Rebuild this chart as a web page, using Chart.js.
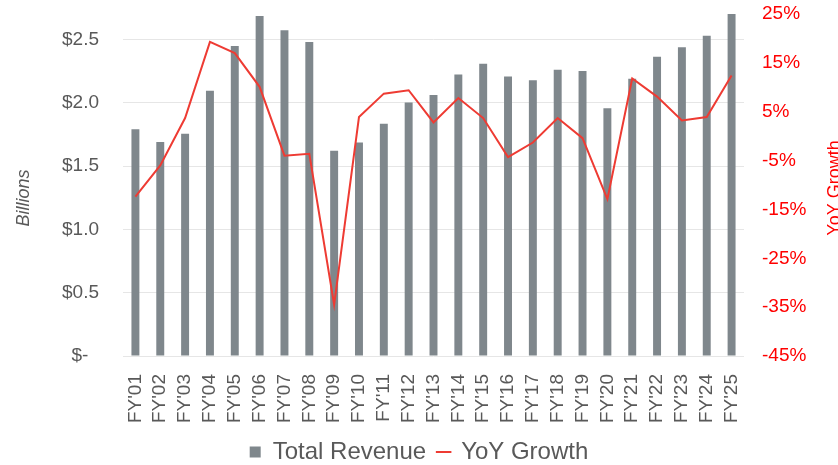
<!DOCTYPE html>
<html>
<head>
<meta charset="utf-8">
<script src="https://cdn.jsdelivr.net/npm/chart.js@4"></script>
<style>
  html, body { margin: 0; padding: 0; background: #fff; }
  #wrap { width: 838px; height: 465px; }
</style>
</head>
<body>
<div id="wrap"><canvas id="revenueChart"></canvas></div>
<script>
const years = ["FY'01", "FY'02", "FY'03", "FY'04", "FY'05", "FY'06", "FY'07", "FY'08", "FY'09", "FY'10",
  "FY'11", "FY'12", "FY'13", "FY'14", "FY'15", "FY'16", "FY'17", "FY'18", "FY'19", "FY'20",
  "FY'21", "FY'22", "FY'23", "FY'24", "FY'25"];

// total revenue, billions
const totalRevenue = [1.79, 1.69, 1.754, 2.095, 2.447, 2.685, 2.571, 2.479, 1.62, 1.685,
  1.833, 2.002, 2.06, 2.222, 2.307, 2.206, 2.177, 2.259, 2.25, 1.955,
  2.188, 2.362, 2.437, 2.529, 2.704];

// year over year growth, %
const yoyGrowth = [-12.4, -6.0, 3.7, 19.3, 17.0, 10.1, -4.0, -3.6, -34.5, 3.9,
  8.7, 9.4, 2.8, 7.8, 3.7, -4.3, -1.3, 3.7, -0.4, -12.9,
  11.8, 8.1, 3.2, 3.9, 12.4];

const gray = '#595959';
const red = '#FF0000';

// axis titles sit off-centre in the original (and the right one reads upwards), so draw them here
const axisTitles = {
  id: 'axisTitles',
  afterDraw(chart) {
    const ctx = chart.ctx;
    ctx.save();
    ctx.textAlign = 'center';
    ctx.textBaseline = 'alphabetic';

    ctx.translate(29, 198);
    ctx.rotate(-Math.PI / 2);
    ctx.font = 'italic 18px "Liberation Sans"';
    ctx.fillStyle = gray;
    ctx.fillText('Billions', 0, 0);
    ctx.restore();

    ctx.save();
    ctx.textAlign = 'center';
    ctx.textBaseline = 'alphabetic';
    ctx.translate(840, 188);
    ctx.rotate(-Math.PI / 2);
    ctx.font = '18px "Liberation Sans"';
    ctx.fillStyle = red;
    ctx.fillText('YoY Growth', 0, 0);
    ctx.restore();
  }
};

const ctx = document.getElementById('revenueChart').getContext('2d');
new Chart(ctx, {
  data: {
    labels: years,
    datasets: [
      {
        type: 'line',
        label: 'YoY Growth',
        data: yoyGrowth,
        yAxisID: 'y1',
        borderColor: '#EE3B33',
        backgroundColor: '#EE3B33',
        borderWidth: 2,
        pointRadius: 0,
        pointStyle: 'line',
        tension: 0,
        order: 1
      },
      {
        type: 'bar',
        label: 'Total Revenue',
        data: totalRevenue,
        yAxisID: 'y',
        backgroundColor: '#7F878C',
        pointStyle: 'rect',
        categoryPercentage: 1,
        barPercentage: 0.32,
        order: 2
      }
    ]
  },
  options: {
    responsive: true,
    maintainAspectRatio: false,
    animation: false,
    layout: { padding: { top: 14, right: 0, left: 0, bottom: -9 } },
    scales: {
      x: {
        grid: { display: false },
        border: { display: false },
        ticks: {
          color: gray,
          font: { family: '"Liberation Sans"', size: 19 },
          minRotation: 90,
          maxRotation: 90,
          padding: 10,
          autoSkip: false
        },
        afterFit(axis) { axis.height = 72; }
      },
      y: {
        position: 'left',
        min: 0,
        max: 2.7,
        border: { display: false },
        grid: { color: '#E6E6E6', lineWidth: 1, drawTicks: false },
        ticks: {
          stepSize: 0.5,
          includeBounds: false,
          color: gray,
          padding: 24,
          font: { family: '"Liberation Sans"', size: 19 },
          callback: v => v === 0 ? '$-  ' : '$' + v.toFixed(1)
        },
        afterFit(axis) {
          axis.width = 123;
          axis.paddingTop = 0;
          axis.paddingBottom = 0;
        }
      },
      y1: {
        position: 'right',
        min: -45,
        max: 25,
        border: { display: false },
        grid: { display: false, drawTicks: false },
        ticks: {
          stepSize: 10,
          color: red,
          padding: 18,
          font: { family: '"Liberation Sans"', size: 19 },
          callback: v => v + '%'
        },
        afterFit(axis) {
          axis.width = 94;
          axis.paddingTop = 0;
          axis.paddingBottom = 0;
        }
      }
    },
    plugins: {
      tooltip: { enabled: false },
      legend: {
        position: 'bottom',
        labels: {
          usePointStyle: true,
          boxWidth: 11,
          boxHeight: 11,
          padding: 12,
          color: gray,
          font: { family: '"Liberation Sans"', size: 24 },
          sort: (a, b) => b.datasetIndex - a.datasetIndex
        }
      }
    }
  },
  plugins: [axisTitles]
});
</script>
</body>
</html>
